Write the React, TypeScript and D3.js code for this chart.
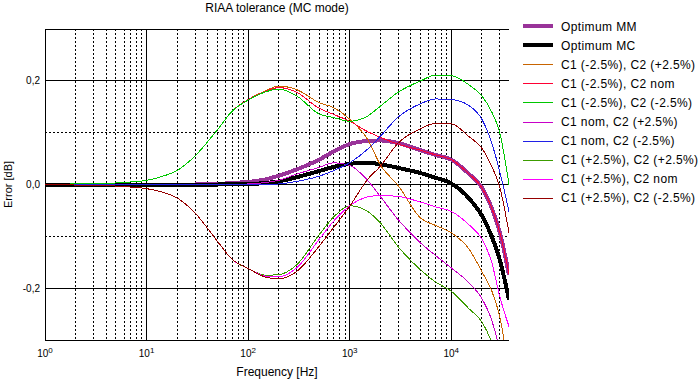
import React from "react";
import * as d3 from "d3";

const freqs = [1, 2, 3, 5, 7, 10, 15, 20, 30, 50, 70, 100, 150, 200, 300, 500, 700, 1000, 1500, 2000, 3000, 5000, 7000, 10000, 15000, 20000, 25000, 30000, 37000];

const optimumMM = [0, 0, 0, 0, 0, 0, 0, 0, 0, 0.001, 0.003, 0.005, 0.010, 0.017, 0.029, 0.048, 0.064, 0.078, 0.084, 0.085, 0.080, 0.066, 0.057, 0.048, 0.020, -0.006, -0.045, -0.092, -0.174];
const optimumMC = [0, 0, 0, 0, 0, 0, 0, 0, 0, 0, 0.001, 0.001, 0.003, 0.006, 0.014, 0.026, 0.034, 0.040, 0.042, 0.039, 0.032, 0.022, 0.013, 0.002, -0.027, -0.060, -0.100, -0.145, -0.222];
const c1mC2p = [0, 0.001, 0.001, 0.003, 0.005, 0.008, 0.017, 0.027, 0.055, 0.106, 0.142, 0.164, 0.181, 0.190, 0.183, 0.158, 0.148, 0.126, 0.087, 0.038, -0.002, -0.065, -0.079, -0.093, -0.125, -0.168, -0.205, -0.255, -0.36];
const c1mC2n = [0, 0.001, 0.001, 0.003, 0.005, 0.008, 0.017, 0.027, 0.055, 0.106, 0.142, 0.164, 0.180, 0.187, 0.178, 0.147, 0.135, 0.122, 0.102, 0.091, 0.078, 0.066, 0.057, 0.048, 0.020, -0.006, -0.045, -0.092, -0.172];
const c1mC2m = [0, 0.001, 0.001, 0.003, 0.005, 0.008, 0.017, 0.027, 0.055, 0.106, 0.142, 0.163, 0.179, 0.184, 0.171, 0.136, 0.129, 0.122, 0.132, 0.151, 0.178, 0.200, 0.211, 0.210, 0.192, 0.171, 0.140, 0.100, 0.000];
const c1nC2p = [0, 0, 0, 0, 0, 0, 0, 0, 0, 0, 0, 0.001, 0.004, 0.008, 0.020, 0.033, 0.042, 0.037, 0.008, -0.023, -0.068, -0.113, -0.137, -0.161, -0.190, -0.220, -0.262, -0.32, -0.42];
const c1nC2m = [0, 0, 0, 0, 0, 0, 0, 0, 0, 0, 0, 0, 0, 0.001, 0.006, 0.016, 0.027, 0.042, 0.068, 0.093, 0.130, 0.156, 0.165, 0.164, 0.152, 0.126, 0.080, 0.025, -0.052];
const c1pC2p = [0, -0.001, -0.001, -0.003, -0.005, -0.008, -0.016, -0.026, -0.055, -0.110, -0.145, -0.162, -0.175, -0.174, -0.155, -0.097, -0.062, -0.041, -0.052, -0.074, -0.120, -0.165, -0.188, -0.206, -0.240, -0.265, -0.305, -0.36, -0.45];
const c1pC2n = [0, -0.001, -0.001, -0.003, -0.005, -0.008, -0.016, -0.026, -0.055, -0.110, -0.145, -0.162, -0.177, -0.178, -0.161, -0.106, -0.070, -0.041, -0.024, -0.021, -0.023, -0.034, -0.043, -0.052, -0.078, -0.105, -0.150, -0.216, -0.274];
const c1pC2m = [0, -0.001, -0.001, -0.003, -0.005, -0.008, -0.016, -0.026, -0.055, -0.110, -0.145, -0.162, -0.179, -0.182, -0.168, -0.119, -0.082, -0.042, 0.010, 0.035, 0.080, 0.108, 0.118, 0.117, 0.092, 0.070, 0.035, -0.005, -0.093];

const seriesNames = [
  "Optimum MM",
  "Optimum MC",
  "C1 (-2.5%), C2 (+2.5%)",
  "C1 (-2.5%), C2 nom",
  "C1 (-2.5%), C2 (-2.5%)",
  "C1 nom, C2 (+2.5%)",
  "C1 nom, C2 (-2.5%)",
  "C1 (+2.5%), C2 (+2.5%)",
  "C1 (+2.5%), C2 nom",
  "C1 (+2.5%), C2 (-2.5%)",
];
const seriesValues = [optimumMM, optimumMC, c1mC2p, c1mC2n, c1mC2m, c1nC2p, c1nC2m, c1pC2p, c1pC2n, c1pC2m];
const seriesColors = ["#993399", "#000000", "#c86400", "#ff0033", "#00c800", "#c800c8", "#2020e6", "#3c9c00", "#ff00ff", "#960000"];
const seriesWidths = [4, 4, 1, 1, 1, 1, 1, 1, 1, 1];

const yMajorTicks = [-0.2, 0, 0.2];
const yMinorTicks = [-0.1, 0.1];
const yTickLabels = ["-0,2", "0,0", "0,2"];
const xDecades = [0, 1, 2, 3, 4];

const W = 698;
const H = 380;
const left = 45;
const right = 509;
const top = 29;
const bottom = 340;
const FONT = "'Liberation Sans', Arial, Helvetica, sans-serif";

export default function App() {
  const x = d3.scaleLog().domain([1, 37000]).range([left, right]);
  const y = d3.scaleLinear().domain([-0.3, 0.3]).range([bottom, top]);

  const minorX: number[] = [];
  for (const d of xDecades) {
    for (let m = 2; m <= 9; m++) {
      const v = m * Math.pow(10, d);
      if (v < 37000) minorX.push(v);
    }
  }
  const majorX = xDecades.map((d) => Math.pow(10, d)).filter((v) => v > 1);

  const line = d3
    .line<number>()
    .x((_, i) => x(freqs[i]))
    .y((v) => y(v))
    .curve(d3.curveMonotoneX);

  const legendX0 = 523;
  const legendX1 = 553;
  const legendY0 = 26;
  const legendDy = 19.1;
  const legendY = (i: number) => Math.round(legendY0 + i * legendDy) + 0.5;

  return (
    <svg width={W} height={H} style={{ position: "absolute", left: 0, top: 0, background: "#fff" }} fontFamily={FONT}>
      <defs>
        <clipPath id="plotClip">
          <rect x={left} y={top} width={right - left} height={bottom - top} />
        </clipPath>
      </defs>
      <rect x={0} y={0} width={W} height={H} fill="#fff" />
      {/* minor grid */}
      {minorX.map((v) => (
        <line key={"mx" + v} x1={x(v)} x2={x(v)} y1={top} y2={bottom} stroke="#000" strokeWidth={1} strokeDasharray="2,2" shapeRendering="crispEdges" />
      ))}
      {yMinorTicks.map((v) => (
        <line key={"my" + v} x1={left} x2={right} y1={y(v)} y2={y(v)} stroke="#000" strokeWidth={1} strokeDasharray="2,2" shapeRendering="crispEdges" />
      ))}
      {/* major grid */}
      {majorX.map((v) => (
        <line key={"Mx" + v} x1={x(v)} x2={x(v)} y1={top} y2={bottom} stroke="#000" strokeWidth={1} shapeRendering="crispEdges" />
      ))}
      {yMajorTicks.map((v) => (
        <line key={"My" + v} x1={left} x2={right} y1={y(v)} y2={y(v)} stroke="#000" strokeWidth={1} shapeRendering="crispEdges" />
      ))}
      {/* borders */}
      <line x1={left} x2={right} y1={top} y2={top} stroke="#000" strokeWidth={1} shapeRendering="crispEdges" />
      <line x1={left} x2={right} y1={bottom} y2={bottom} stroke="#000" strokeWidth={1} shapeRendering="crispEdges" />
      <line x1={left} x2={left} y1={top} y2={bottom} stroke="#000" strokeWidth={1} shapeRendering="crispEdges" />

      {/* curves */}
      <g clipPath="url(#plotClip)">
        {seriesValues.map((vals, i) => (
          <path key={"s" + i} d={line(vals) || ""} fill="none" stroke={seriesColors[i]} strokeWidth={seriesWidths[i]} strokeLinejoin="round" shapeRendering="crispEdges" />
        ))}
      </g>

      {/* y tick labels */}
      {yMajorTicks.map((v, i) => (
        <text key={"yl" + v} x={40} y={y(v) + 3.5} textAnchor="end" fontSize={10} fill="#000">
          {yTickLabels[i]}
        </text>
      ))}
      {/* x tick labels */}
      {xDecades.map((d) => (
        <text key={"xl" + d} x={x(Math.pow(10, d))} y={357} textAnchor="middle" fontSize={10} fill="#000">
          10
          <tspan fontSize={8} dy={-4}>
            {d}
          </tspan>
        </text>
      ))}

      {/* title and axis labels */}
      <text x={(left + right) / 2} y={12} textAnchor="middle" fontSize={12} fill="#000">
        RIAA tolerance (MC mode)
      </text>
      <text x={(left + right) / 2} y={376} textAnchor="middle" fontSize={12} fill="#000">
        Frequency [Hz]
      </text>
      <text transform={`translate(12, ${(top + bottom) / 2}) rotate(-90)`} textAnchor="middle" fontSize={11} fill="#000">
        Error [dB]
      </text>

      {/* legend */}
      {seriesNames.map((name, i) => (
        <g key={"lg" + i}>
          <line x1={legendX0} x2={legendX1} y1={seriesWidths[i] > 1 ? legendY(i) - 0.5 : legendY(i)} y2={seriesWidths[i] > 1 ? legendY(i) - 0.5 : legendY(i)} stroke={seriesColors[i]} strokeWidth={seriesWidths[i]} />
          <text x={561} y={legendY0 + i * legendDy + 4.5} fontSize={12} letterSpacing={0.4} fill="#000">
            {name}
          </text>
        </g>
      ))}
    </svg>
  );
}
